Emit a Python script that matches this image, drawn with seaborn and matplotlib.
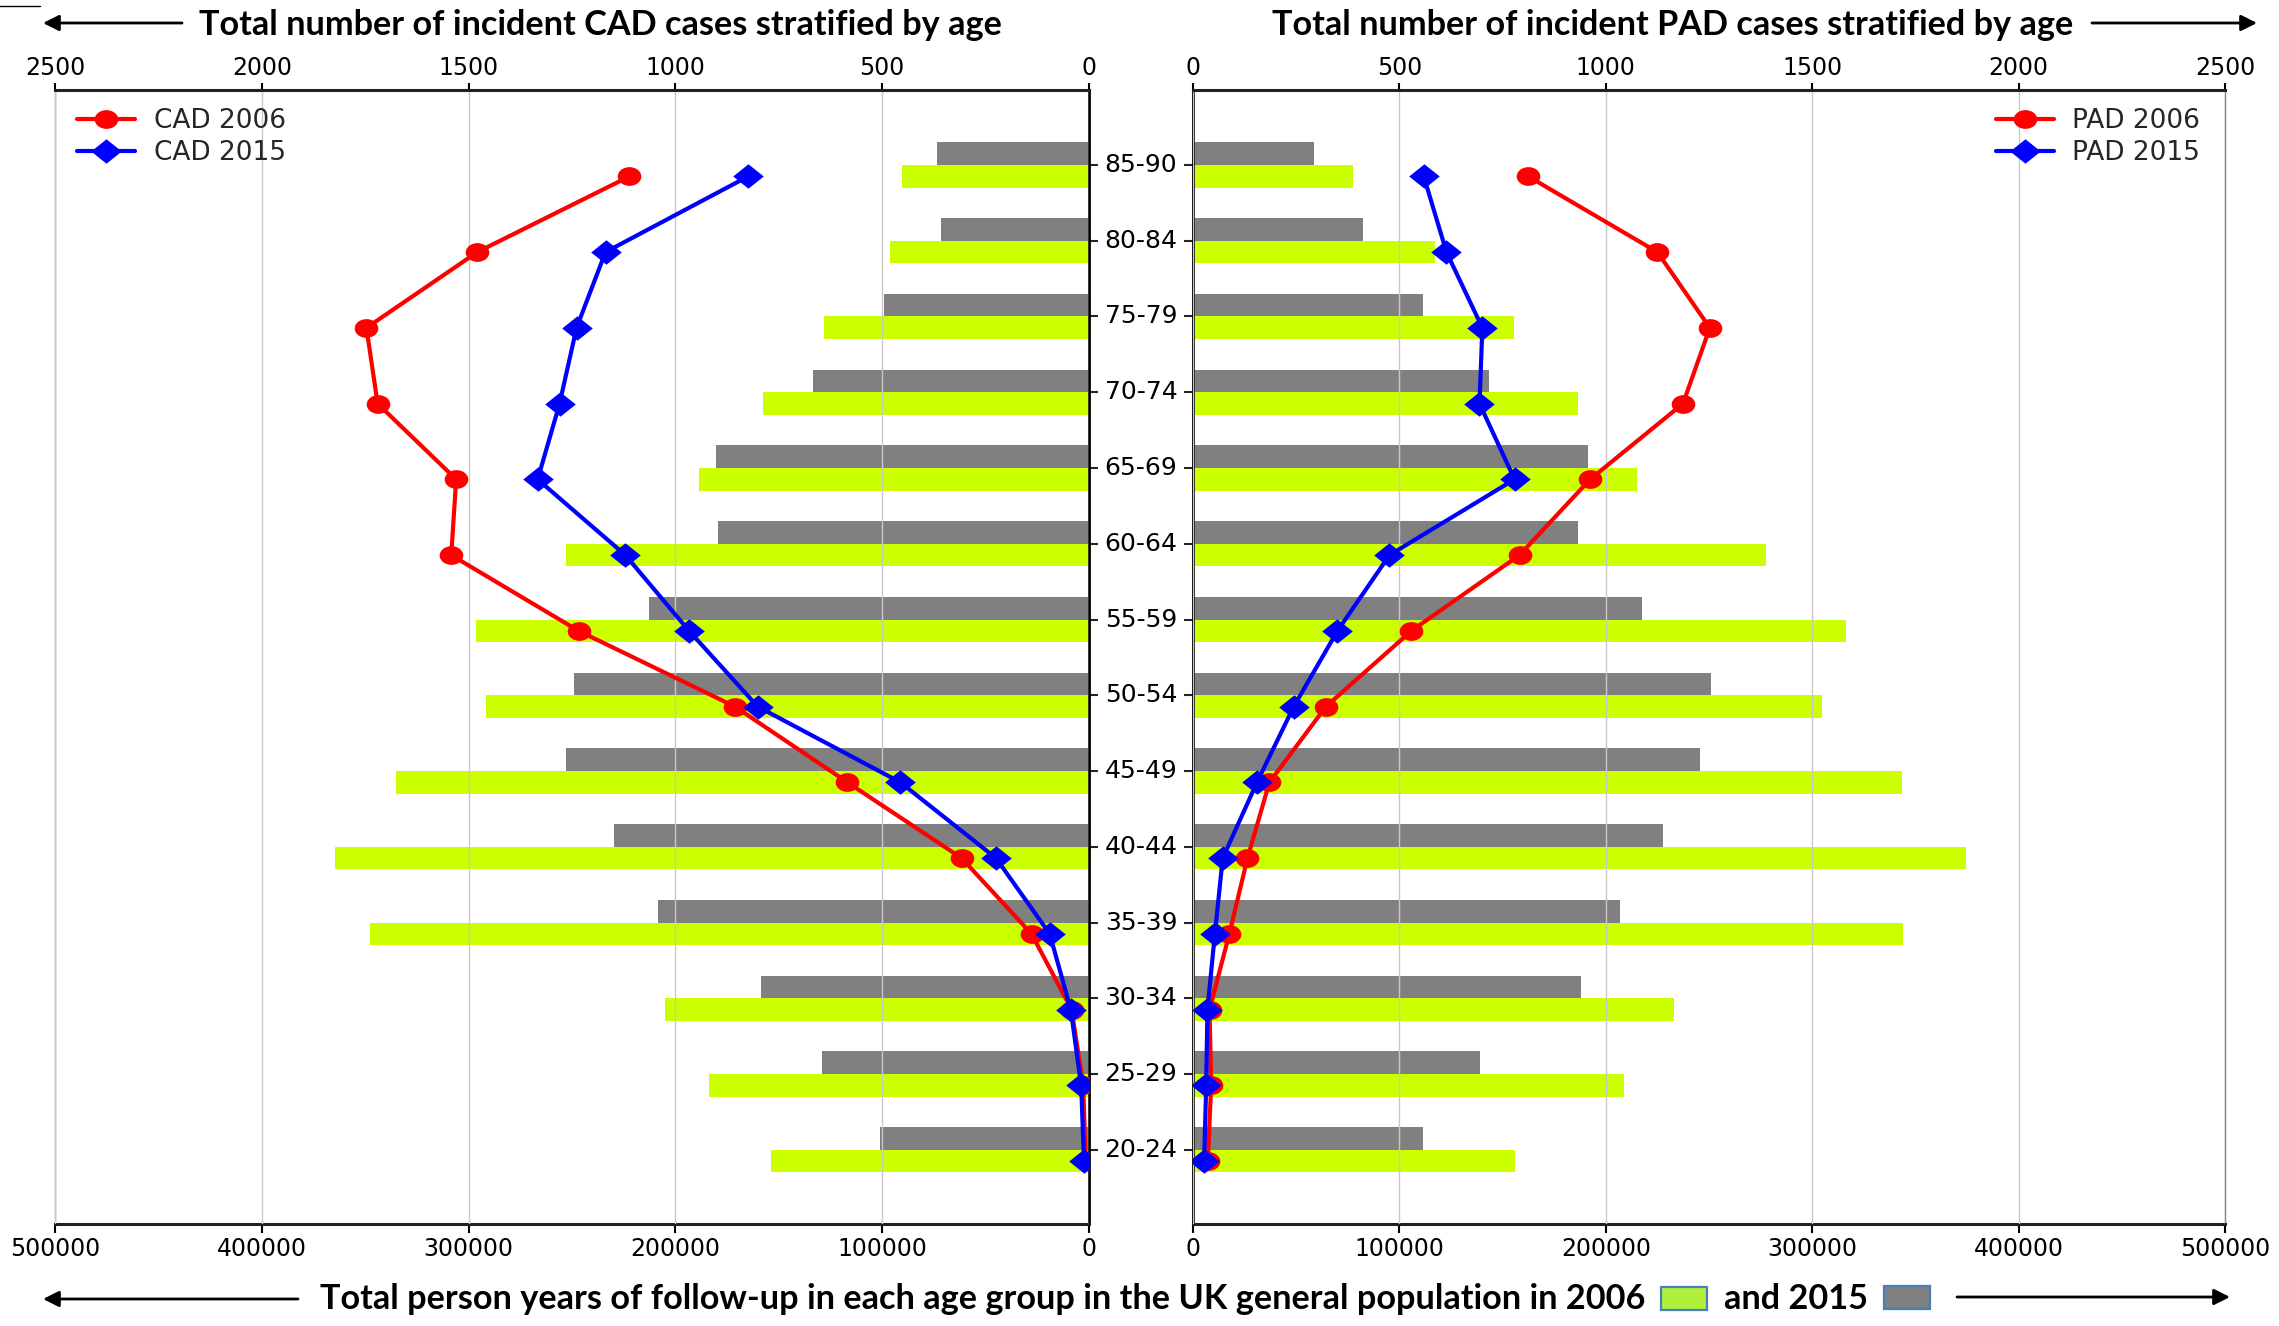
import numpy as np
import pandas as pd
import matplotlib
matplotlib.use("Agg")
import matplotlib.pyplot as plt
import seaborn as sns
from matplotlib.path import Path
from matplotlib.transforms import Affine2D, blended_transform_factory
from matplotlib.patches import Rectangle, FancyArrowPatch
from matplotlib.lines import Line2D

# ---------------------------------------------------------------- data
age_groups = ["85-90", "80-84", "75-79", "70-74", "65-69", "60-64", "55-59",
              "50-54", "45-49", "40-44", "35-39", "30-34", "25-29", "20-24"]

# person years of follow-up (CAD cohort)
cad_py_2006 = [90500, 96100, 128200, 157700, 188400, 252800, 296500,
               291500, 334900, 364800, 347500, 204900, 183800, 153900]
cad_py_2015 = [73600, 71500, 98900, 133400, 180600, 179600, 212700,
               248900, 252800, 229900, 208400, 158800, 129200, 101100]

# person years of follow-up (PAD cohort)
pad_py_2006 = [77400, 117100, 155400, 186700, 215200, 277800, 316400,
               304800, 343500, 374500, 344200, 233100, 208900, 155800]
pad_py_2015 = [58400, 82600, 111500, 143500, 191600, 186300, 217300,
               251000, 245800, 227800, 207100, 188100, 139200, 111500]

# incident cases
cad_cases_2006 = [1111, 1479, 1747, 1720, 1530, 1542, 1234, 856, 584, 308, 139, 42, 14, 8]
cad_cases_2015 = [824, 1169, 1239, 1280, 1333, 1121, 967, 801, 456, 225, 95, 44, 19, 12]
pad_cases_2006 = [812, 1125, 1252, 1187, 962, 791, 529, 322, 185, 132, 88, 40, 44, 36]
pad_cases_2015 = [559, 614, 701, 694, 779, 476, 350, 244, 155, 72, 53, 35, 32, 27]

py_ticks = [0, 100000, 200000, 300000, 400000, 500000]
case_ticks = [0, 500, 1000, 1500, 2000, 2500]

# ---------------------------------------------------------------- style
sns.set_style("white")
plt.rcParams["font.family"] = ["DejaVu Sans"]
TITLE_FONT = ["Liberation Sans Narrow", "Lato", "DejaVu Sans"]
TICK_SIZE = 17
LABEL_SIZE = 18
LEGEND_SIZE = 19
TITLE_SIZE = 24.7

GREEN = "#CCFF00"
GREY = "#808080"
W, H = 2279, 1326
fig = plt.figure(figsize=(W / 100, H / 100), dpi=100)


def fx(px):
    return px / W


def fy(py):
    return 1 - py / H


axL = fig.add_axes([fx(55), fy(1224), fx(1089 - 55), (1224 - 90) / H])
axR = fig.add_axes([fx(1193), fy(1224), fx(2225 - 1193), (1224 - 90) / H])

# slightly wide markers: ellipse and diamond
ellipse = Path.unit_circle().transformed(Affine2D().scale(1.26, 1.0))
diamond = Path([(0, 1.0), (1.25, 0), (0, -1.0), (-1.25, 0), (0, 1.0)],
               [Path.MOVETO, Path.LINETO, Path.LINETO, Path.LINETO, Path.CLOSEPOLY])
MS_CIRC = 17
MS_DIAM = 22
LW = 3.0

ypos = np.arange(len(age_groups)) + 0.15


def panel(ax, py06, py15, c06, c15, name, mirror):
    df = pd.DataFrame({
        "age": age_groups * 2,
        "year": ["2015"] * len(age_groups) + ["2006"] * len(age_groups),
        "py": list(py15) + list(py06),
    })
    sns.barplot(data=df, y="age", x="py", hue="year", order=age_groups,
                hue_order=["2015", "2006"], palette={"2015": GREY, "2006": GREEN},
                orient="h", width=0.6, saturation=1, errorbar=None,
                linewidth=0, legend=False, ax=ax)
    ax.set_xlabel("")
    ax.set_ylabel("")
    ax.set_ylim(13.98, -0.99)
    if mirror:
        ax.set_xlim(500000, 0)
    else:
        ax.set_xlim(0, 500000)
    ax.set_xticks(py_ticks, labels=[str(t) for t in py_ticks])
    ax.tick_params(axis="x", direction="out", length=6.5, width=1.5,
                   labelsize=TICK_SIZE, pad=3, colors="black", bottom=True)
    ax.set_yticks(range(len(age_groups)), labels=[""] * len(age_groups))
    if mirror:
        ax.yaxis.tick_right()
        ax.tick_params(axis="y", right=True, left=False)
    else:
        ax.yaxis.tick_left()
        ax.tick_params(axis="y", left=True, right=False)
    ax.tick_params(axis="y", direction="out", length=6.5, width=1.5)

    for s in ax.spines.values():
        s.set_visible(True)
    ax.spines["top"].set_visible(False)
    ax.spines["bottom"].set_color("#222222")
    ax.spines["bottom"].set_linewidth(2.2)
    inner, outer = ("right", "left") if mirror else ("left", "right")
    ax.spines[inner].set_color("black")
    ax.spines[inner].set_linewidth(2.0)
    ax.spines[outer].set_color("#888888")
    ax.spines[outer].set_linewidth(1.0)

    axT = ax.twiny()
    axT.set_xlim((2500, 0) if mirror else (0, 2500))
    axT.set_ylim(ax.get_ylim())
    axT.set_axisbelow(True)
    axT.grid(axis="x", color="#c8c8c8", linewidth=1.0)
    axT.set_xticks(case_ticks, labels=[str(t) for t in case_ticks])
    axT.tick_params(axis="x", direction="out", length=5, width=1.5,
                    labelsize=TICK_SIZE, pad=2, colors="black", top=True)
    for k, s in axT.spines.items():
        s.set_visible(k == "top")
    axT.spines["top"].set_color("#222222")
    axT.spines["top"].set_linewidth(2.2)

    axT.plot(c06, ypos, color="red", lw=LW, marker=ellipse, ms=MS_CIRC,
             markeredgewidth=0, label=f"{name} 2006", zorder=3)
    axT.plot(c15, ypos, color="blue", lw=LW, marker=diamond, ms=MS_DIAM,
             markeredgewidth=0, label=f"{name} 2015", zorder=4)

    handles = [
        Line2D([], [], color="red", lw=LW, marker=ellipse, ms=MS_CIRC, markeredgewidth=0),
        Line2D([], [], color="blue", lw=LW, marker=diamond, ms=MS_DIAM, markeredgewidth=0),
    ]
    if mirror:
        loc, anchor = "upper left", (0.0213, 0.984)
    else:
        loc, anchor = "upper right", (0.9758, 0.984)
    axT.legend(handles, [f"{name} 2006", f"{name} 2015"], loc=loc,
               bbox_to_anchor=anchor, frameon=False, fontsize=LEGEND_SIZE,
               borderpad=0, borderaxespad=0, handlelength=2.2,
               handletextpad=0.7, labelspacing=0.22)
    return axT


panel(axL, cad_py_2006, cad_py_2015, cad_cases_2006, cad_cases_2015, "CAD", True)
panel(axR, pad_py_2006, pad_py_2015, pad_cases_2006, pad_cases_2015, "PAD", False)

# age group labels centred between the two panels
tr = blended_transform_factory(fig.transFigure, axL.transData)
for i, g in enumerate(age_groups):
    fig.text(fx(1141), i, g, transform=tr, ha="center", va="center",
             fontsize=LABEL_SIZE, color="black")

# ---------------------------------------------------------------- titles
title_kw = dict(fontsize=TITLE_SIZE, fontweight="bold", family=TITLE_FONT,
                color="black")
fig.text(fx(600), fy(25), "Total number of incident CAD cases stratified by age",
         ha="center", va="center", **title_kw)
fig.text(fx(1673), fy(25), "Total number of incident PAD cases stratified by age",
         ha="center", va="center", **title_kw)


def arrow(x0, y0, x1, y1):
    fig.patches.append(FancyArrowPatch(
        (fx(x0), fy(y0)), (fx(x1), fy(y1)), transform=fig.transFigure,
        arrowstyle="-|>", mutation_scale=24, lw=2.0, color="black",
        shrinkA=0, shrinkB=0))


arrow(182, 23, 43, 23)
arrow(2092, 23, 2257, 23)
arrow(298, 1299, 43, 1299)
arrow(1957, 1297, 2230, 1297)
fig.lines.append(Line2D([fx(0), fx(40)], [fy(6), fy(6)], transform=fig.transFigure,
                        color="black", lw=1.0))

# bottom caption with colour keys
t1 = fig.text(fx(320), fy(1299), "Total person years of follow-up in each age group "
              "in the UK general population in 2006", ha="left", va="center", **title_kw)
fig.canvas.draw()
r = fig.canvas.get_renderer()
bb = t1.get_window_extent(r)
x = bb.x1 + 16
box_w, box_h = 46, 23
fig.patches.append(Rectangle((x / W, fy(1310)), box_w / W, box_h / H,
                             transform=fig.transFigure, facecolor="#B0F03C",
                             edgecolor="#4A7EBB", lw=1.6))
x += box_w + 17
t2 = fig.text(x / W, fy(1299), "and 2015", ha="left", va="center", **title_kw)
bb2 = t2.get_window_extent(r)
x = bb2.x1 + 16
fig.patches.append(Rectangle((x / W, fy(1309)), box_w / W, box_h / H,
                             transform=fig.transFigure, facecolor=GREY,
                             edgecolor="#4A7EBB", lw=1.6))

fig.savefig("out.png", dpi=100)
